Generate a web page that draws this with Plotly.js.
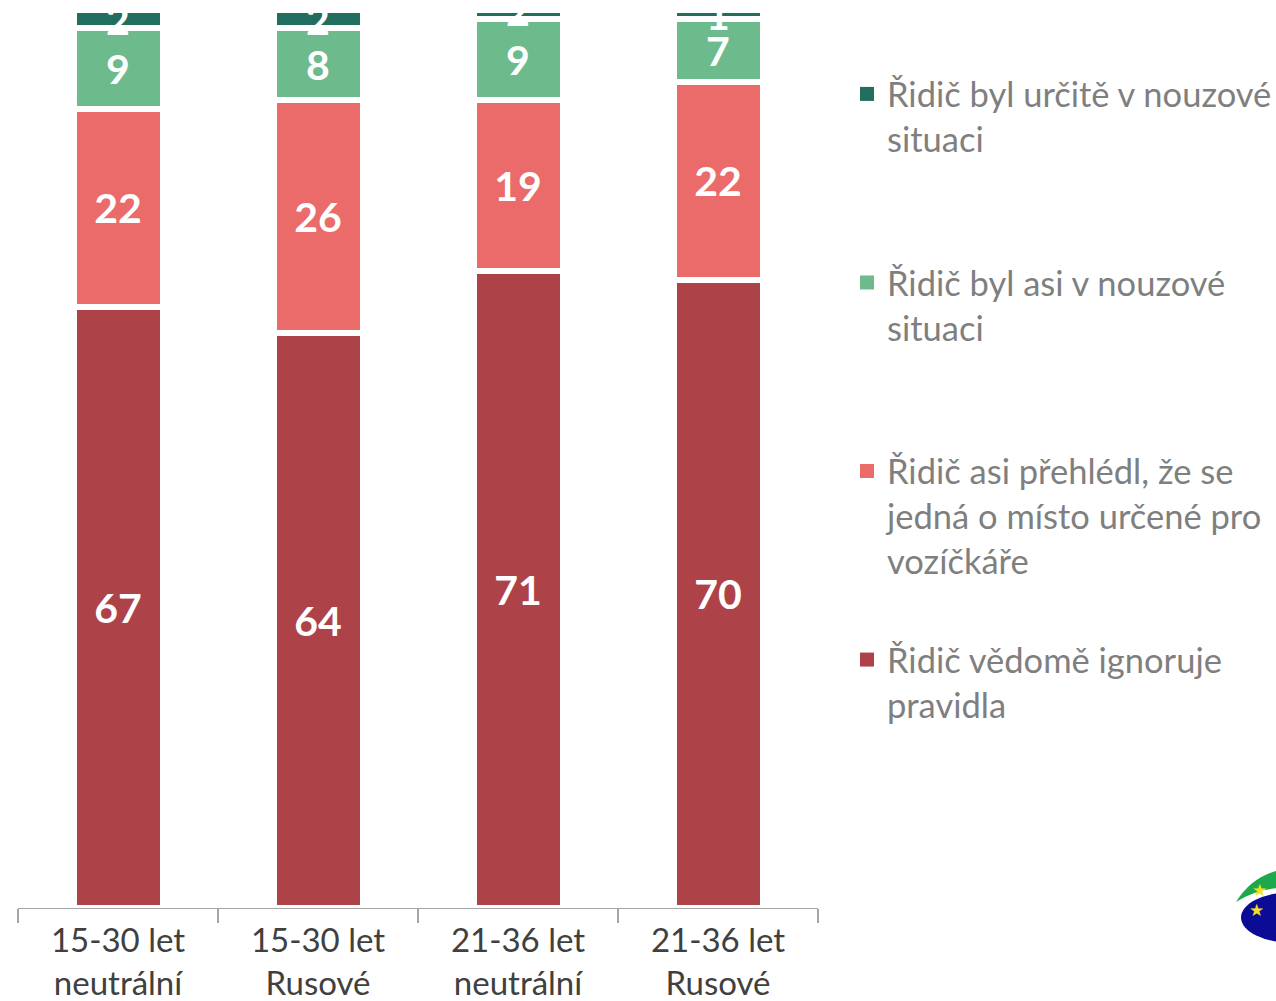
<!DOCTYPE html>
<html><head><meta charset="utf-8">
<script src="https://cdn.plot.ly/plotly-3.0.1.min.js"></script>
<style>html,body{margin:0;padding:0;background:#fff;overflow:hidden;}</style>
</head><body><div id="chart" style="width:1276px;height:1001px;"></div>
<script>
// ---- data ----
const categories = ['15-30 let<br>neutrální', '15-30 let<br>Rusové', '21-36 let<br>neutrální', '21-36 let<br>Rusové'];
const nameIgnoruje = 'Řidič vědomě ignoruje<br>pravidla<br>\u00a0';
const namePrehledl = 'Řidič asi přehlédl, že se<br>jedná o místo určené pro<br>vozíčkáře';
const nameAsi = 'Řidič byl asi v nouzové<br>situaci<br>\u00a0';
const nameUrcite = 'Řidič byl určitě v nouzové<br>situaci<br>\u00a0';
const ignoruje = [67, 64, 71, 70];
const prehledl = [22, 26, 19, 22];
const asiNouze = [9, 8, 9, 7];
const urciteNouze = [2, 2, 2, 1];

const colors = {ignoruje: '#AE4249', prehledl: '#EB6A6A', asi: '#6DBB8D', urcite: '#226E5E'};

function barTrace(vals, color) {
  return {
    type: 'bar', x: categories, y: vals, showlegend: false,
    marker: {color: color, line: {color: '#FFFFFF', width: 6}},
    text: vals.map(v => String(v)),
    textposition: 'inside', insidetextanchor: 'middle',
    textangle: 0, constraintext: 'none', cliponaxis: true,
    textfont: {family: 'Lato, sans-serif', size: 41, color: '#FFFFFF', weight: 700},
    hoverinfo: 'skip'
  };
}
function legendTrace(name, color, grp) {
  return {
    type: 'scatter', mode: 'markers', x: [null], y: [null], name: name,
    legendgroup: grp, showlegend: true,
    marker: {symbol: 'square', size: 14, color: color},
    hoverinfo: 'skip'
  };
}

const data = [
  barTrace(ignoruje, colors.ignoruje),
  barTrace(prehledl, colors.prehledl),
  barTrace(asiNouze, colors.asi),
  barTrace(urciteNouze, colors.urcite),
  legendTrace(nameUrcite, colors.urcite, 'g1'),
  legendTrace(nameAsi, colors.asi, 'g2'),
  legendTrace(namePrehledl, colors.prehledl, 'g3'),
  legendTrace(nameIgnoruje, colors.ignoruje, 'g4')
];

// pixel -> paper helpers for decorative logo / legend placement
const PL = 18, PR = 818, PT = 13, PB = 908;
const px = x => (x - PL) / (PR - PL);
const py = y => (PB - y) / (PB - PT);

const layout = {
  width: 1276, height: 1001,
  margin: {l: PL, r: 1276 - PR, t: PT, b: 1001 - PB, pad: 0, autoexpand: false},
  paper_bgcolor: '#FFFFFF', plot_bgcolor: '#FFFFFF',
  barmode: 'stack', bargap: 0.555,
  showlegend: true,
  font: {family: 'Lato, sans-serif'},
  xaxis: {
    type: 'category', range: [-0.5, 3.5],
    showline: true, linecolor: '#A6A6A6', linewidth: 1.3,
    ticks: 'outside', tickson: 'boundaries', ticklen: 14, tickcolor: '#A6A6A6', tickwidth: 1.3,
    ticklabelstandoff: 3,
    tickfont: {family: 'Lato, sans-serif', size: 33, color: '#404040'},
    showgrid: false, zeroline: false, fixedrange: true
  },
  yaxis: {range: [0, 99.7], visible: false, showgrid: false, zeroline: false, fixedrange: true},
  legend: {
    x: px(847), xanchor: 'left', y: py(65), yanchor: 'top',
    traceorder: 'grouped', tracegroupgap: 51, valign: 'top',
    font: {family: 'Lato, sans-serif', size: 34.5, color: '#7F7F7F'},
    bgcolor: 'rgba(0,0,0,0)', borderwidth: 0
  },
  shapes: [
    {type: 'path', xref: 'paper', yref: 'paper', layer: 'above',
     path: 'M' + px(1236) + ',' + py(902) + ' Q' + px(1252) + ',' + py(876) + ' ' + px(1280) + ',' + py(870) +
           ' L' + px(1280) + ',' + py(888) + ' Q' + px(1256) + ',' + py(889) + ' ' + px(1236) + ',' + py(902) + ' Z',
     fillcolor: '#1DA84A', line: {width: 0}},
    {type: 'circle', xref: 'paper', yref: 'paper', layer: 'above',
     x0: px(1241), x1: px(1345), y0: py(943), y1: py(892),
     fillcolor: '#0B0B96', line: {width: 0}}
  ],
  annotations: [
    {xref: 'paper', yref: 'paper', x: px(1269), y: py(902), text: '★', showarrow: false,
     font: {size: 17, color: '#F2E01E'}},
    {xref: 'paper', yref: 'paper', x: px(1266), y: py(922), text: '★', showarrow: false,
     font: {size: 17, color: '#F2E01E'}}
  ]
};

Plotly.newPlot('chart', data, layout, {displayModeBar: false, staticPlot: true});
</script>
</body></html>
